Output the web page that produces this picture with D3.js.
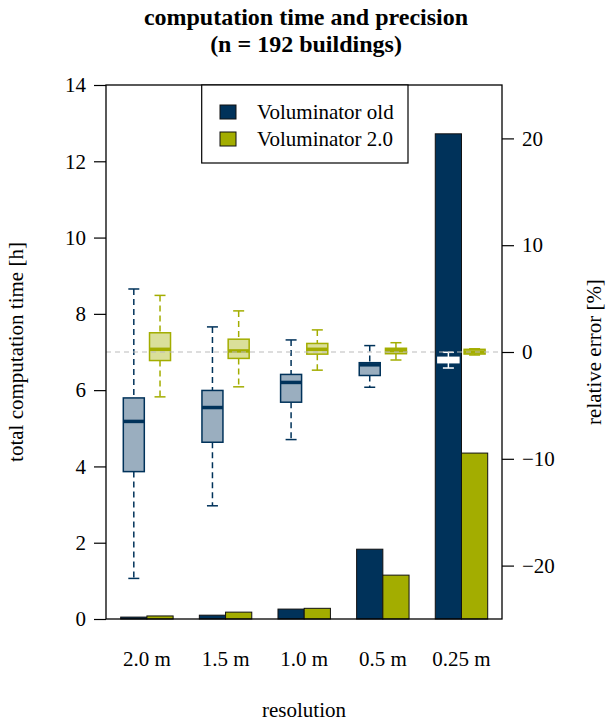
<!DOCTYPE html>
<html>
<head>
<meta charset="utf-8">
<script src="https://cdn.jsdelivr.net/npm/d3@7"></script>
<style>
  body { margin: 0; background: #fff; }
  svg text { font-family: "Liberation Serif", "DejaVu Serif", serif; fill: #000; }
</style>
</head>
<body>
<div id="chart"></div>
<script>
// categories and series
const resolutions = ["2.0 m", "1.5 m", "1.0 m", "0.5 m", "0.25 m"];
const seriesNames = ["Voluminator old", "Voluminator 2.0"];

// total computation time [h] (bars)
const timeOld = [0.05, 0.10, 0.26, 1.83, 12.72];
const timeNew = [0.08, 0.18, 0.28, 1.15, 4.35];

// relative error [%] box stats: [low whisker, q1, median, q3, high whisker]
const errOld = [
  [-21.2, -11.2, -6.5, -4.3, 5.9],
  [-14.4, -8.45, -5.2, -3.6, 2.35],
  [-8.2, -4.7, -2.85, -2.1, 1.13],
  [-3.3, -2.2, -1.2, -1.0, 0.6],
  [-1.5, -1.0, -0.75, -0.5, -0.03]
];
const errNew = [
  [-4.2, -0.8, 0.25, 1.8, 5.3],
  [-3.26, -0.6, 0.1, 1.2, 3.85],
  [-1.7, -0.2, 0.25, 0.8, 2.07],
  [-0.75, -0.16, 0.12, 0.35, 0.87],
  [-0.28, -0.19, 0.0, 0.25, 0.3]
];

const timeTicks = [0, 2, 4, 6, 8, 10, 12, 14];
const errTicks = [-20, -10, 0, 10, 20];

const W = 606, H = 724;
const plot = { left: 106, right: 502, top: 85, bottom: 619 };
const fs = 21;

const navy = "#00325a", olive = "#a3ad00";
const navyFill = "#9aaebf", oliveFill = "#dadf9a";

const svg = d3.select("#chart").append("svg")
  .attr("width", W).attr("height", H);

// scales
const x = d3.scaleBand().domain(resolutions)
  .range([120.7, 487.7]).paddingInner(1 / 3).paddingOuter(0);
const xSub = d3.scaleBand().domain(seriesNames).range([0, x.bandwidth()]);
const yTime = d3.scaleLinear().domain([0, 14]).range([plot.bottom, plot.top]);
const yErr = d3.scaleLinear().domain([-25, 25]).range([plot.bottom, plot.top]);

// bars
const barData = [];
resolutions.forEach((r, i) => {
  barData.push({ r: r, s: seriesNames[0], v: timeOld[i], c: navy });
  barData.push({ r: r, s: seriesNames[1], v: timeNew[i], c: olive });
});
svg.append("g").selectAll("rect")
  .data(barData).join("rect")
  .attr("x", d => x(d.r) + xSub(d.s))
  .attr("width", xSub.bandwidth())
  .attr("y", d => yTime(d.v))
  .attr("height", d => yTime(0) - yTime(d.v))
  .attr("fill", d => d.c)
  .attr("stroke", "#111").attr("stroke-width", 1);

// boxplots
const boxData = [];
resolutions.forEach((r, i) => {
  const oldOnBar = i === resolutions.length - 1; // drawn in white over the tall bar
  boxData.push({ r: r, s: seriesNames[0], st: errOld[i],
    line: oldOnBar ? "#fff" : navy, fill: oldOnBar ? "#fff" : navyFill });
  boxData.push({ r: r, s: seriesNames[1], st: errNew[i], line: olive, fill: oliveFill });
});
const boxW = 21, capW = 11;
const bx = svg.append("g").selectAll("g")
  .data(boxData).join("g")
  .attr("transform", d => `translate(${x(d.r) + xSub(d.s) + xSub.bandwidth() / 2},0)`);

bx.append("line") // upper whisker
  .attr("y1", d => yErr(d.st[4])).attr("y2", d => yErr(d.st[3]))
  .attr("stroke", d => d.line).attr("stroke-width", 1.5).attr("stroke-dasharray", "6,4");
bx.append("line") // lower whisker
  .attr("y1", d => yErr(d.st[1])).attr("y2", d => yErr(d.st[0]))
  .attr("stroke", d => d.line).attr("stroke-width", 1.5).attr("stroke-dasharray", "6,4");
bx.append("line") // caps
  .attr("x1", -capW / 2).attr("x2", capW / 2)
  .attr("y1", d => yErr(d.st[4])).attr("y2", d => yErr(d.st[4]))
  .attr("stroke", d => d.line).attr("stroke-width", 1.5);
bx.append("line")
  .attr("x1", -capW / 2).attr("x2", capW / 2)
  .attr("y1", d => yErr(d.st[0])).attr("y2", d => yErr(d.st[0]))
  .attr("stroke", d => d.line).attr("stroke-width", 1.5);
bx.append("rect")
  .attr("x", -boxW / 2).attr("width", boxW)
  .attr("y", d => yErr(d.st[3]))
  .attr("height", d => yErr(d.st[1]) - yErr(d.st[3]))
  .attr("fill", d => d.fill).attr("stroke", d => d.line).attr("stroke-width", 1.5);
bx.append("line") // median
  .attr("x1", -boxW / 2).attr("x2", boxW / 2)
  .attr("y1", d => yErr(d.st[2])).attr("y2", d => yErr(d.st[2]))
  .attr("stroke", d => d.line).attr("stroke-width", 3.5);

// zero line of the error axis
svg.append("line")
  .attr("x1", plot.left).attr("x2", plot.right)
  .attr("y1", yErr(0)).attr("y2", yErr(0))
  .attr("stroke", "#bbb").attr("stroke-width", 1.2).attr("stroke-dasharray", "5,4");

// frame
svg.append("rect")
  .attr("x", plot.left).attr("y", plot.top)
  .attr("width", plot.right - plot.left).attr("height", plot.bottom - plot.top)
  .attr("fill", "none").attr("stroke", "#000").attr("stroke-width", 1.3);

// axes
const leftAxis = svg.append("g")
  .attr("transform", `translate(${plot.left},0)`)
  .call(d3.axisLeft(yTime).tickValues(timeTicks).tickSize(12).tickPadding(8));
const rightAxis = svg.append("g")
  .attr("transform", `translate(${plot.right},0)`)
  .call(d3.axisRight(yErr).tickValues(errTicks).tickSize(12).tickPadding(8));
[leftAxis, rightAxis].forEach(a => {
  a.select(".domain").remove();
  a.selectAll(".tick line").attr("stroke", "#000").attr("stroke-width", 1.2);
  a.selectAll(".tick text").attr("font-size", fs)
    .attr("font-family", "Liberation Serif, serif");
});

// category labels
svg.append("g").selectAll("text")
  .data(resolutions).join("text")
  .attr("x", d => x(d) + x.bandwidth() / 2)
  .attr("y", 666)
  .attr("text-anchor", "middle")
  .attr("font-size", fs)
  .text(d => d);

// axis titles
svg.append("text")
  .attr("transform", `translate(18,${(plot.top + plot.bottom) / 2}) rotate(-90)`)
  .attr("text-anchor", "middle").attr("dominant-baseline", "middle")
  .attr("font-size", fs)
  .text("total computation time [h]");
svg.append("text")
  .attr("transform", `translate(596,${(plot.top + plot.bottom) / 2}) rotate(-90)`)
  .attr("text-anchor", "middle").attr("dominant-baseline", "middle")
  .attr("font-size", fs)
  .text("relative error [%]");
svg.append("text")
  .attr("x", (plot.left + plot.right) / 2).attr("y", 717)
  .attr("text-anchor", "middle").attr("font-size", fs)
  .text("resolution");

// title
const title = svg.append("text")
  .attr("text-anchor", "middle").attr("font-size", 24).attr("font-weight", "bold");
title.append("tspan").attr("x", 306).attr("y", 25).text("computation time and precision");
title.append("tspan").attr("x", 306).attr("y", 52).text("(n = 192 buildings)");

// legend
const legend = svg.append("g");
legend.append("rect")
  .attr("x", 201.7).attr("y", plot.top).attr("width", 206.3).attr("height", 78)
  .attr("fill", "#fff").attr("stroke", "#000").attr("stroke-width", 1.2);
const legendItems = legend.selectAll("g.item")
  .data(seriesNames).join("g").attr("class", "item")
  .attr("transform", (d, i) => `translate(220,${112 + i * 27})`);
legendItems.append("rect")
  .attr("x", 0).attr("y", -7).attr("width", 16).attr("height", 14)
  .attr("fill", (d, i) => i === 0 ? navy : olive)
  .attr("stroke", "#111").attr("stroke-width", 1);
legendItems.append("text")
  .attr("x", 37).attr("y", 7)
  .attr("font-size", fs)
  .text(d => d);
</script>
</body>
</html>
